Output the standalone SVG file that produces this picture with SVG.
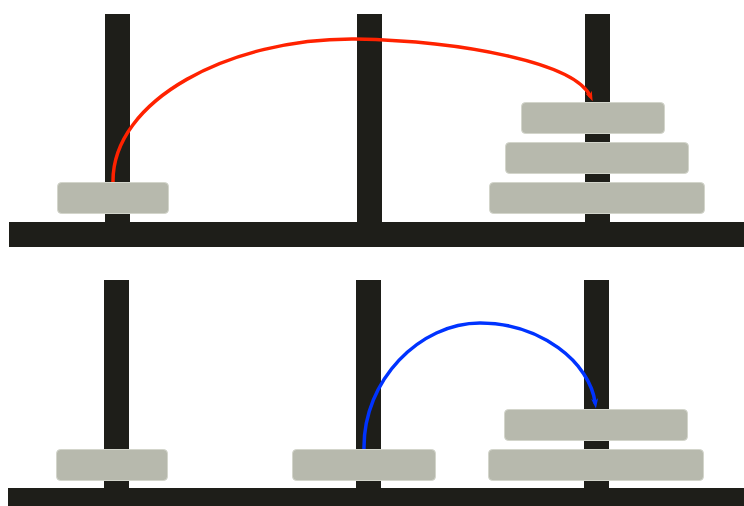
<svg xmlns="http://www.w3.org/2000/svg" width="744" height="506" viewBox="0 0 744 506">
<style>
.pole{fill:#1e1e19}
.disk{fill:#b7b9ad;stroke:#d3d5cb;stroke-width:1}
.arc{fill:none;stroke-width:3.5}
</style>
<defs>
<marker id="arR" markerWidth="10" markerHeight="7" refX="5" refY="3.5" orient="auto" markerUnits="userSpaceOnUse" viewBox="0 0 10 7"><path d="M0,0 L10,3.5 L0,7 L3,3.5 Z" fill="#ff2200"/></marker>
<marker id="arB" markerWidth="10" markerHeight="7" refX="5" refY="3.5" orient="auto" markerUnits="userSpaceOnUse" viewBox="0 0 10 7"><path d="M0,0 L10,3.5 L0,7 L3,3.5 Z" fill="#0033ff"/></marker>
</defs>
<rect width="744" height="506" fill="#ffffff"/>
<g id="top">
<g id="top-poles">
<rect class="pole" x="105" y="14" width="25" height="210"/>
<rect class="pole" x="357" y="14" width="25" height="210"/>
<rect class="pole" x="585" y="14" width="25" height="210"/>
<rect class="pole" x="9" y="222" width="735" height="25"/>
</g>
<g id="top-disk-a"><rect class="disk" x="57.5" y="182.5" width="111" height="31" rx="4"/></g>
<g id="top-disk-b"><rect class="disk" x="521.5" y="102.5" width="143" height="31" rx="4"/></g>
<g id="top-disk-c"><rect class="disk" x="505.5" y="142.5" width="183" height="31" rx="4"/></g>
<g id="top-disk-d"><rect class="disk" x="489.5" y="182.5" width="215" height="31" rx="4"/></g>
</g>
<g id="bottom">
<g id="bottom-poles">
<rect class="pole" x="104" y="280" width="25" height="210"/>
<rect class="pole" x="356" y="280" width="25" height="210"/>
<rect class="pole" x="584" y="280" width="25" height="210"/>
<rect class="pole" x="8" y="488" width="736" height="18"/>
</g>
<g id="bottom-disk-a"><rect class="disk" x="56.5" y="449.5" width="111" height="31" rx="4"/></g>
<g id="bottom-disk-b"><rect class="disk" x="292.5" y="449.5" width="143" height="31" rx="4"/></g>
<g id="bottom-disk-c"><rect class="disk" x="504.5" y="409.5" width="183" height="31" rx="4"/></g>
<g id="bottom-disk-d"><rect class="disk" x="488.5" y="449.5" width="215" height="31" rx="4"/></g>
</g>
<g id="connectors">
<path class="arc" stroke="#ff2200" d="M113,182 C112,100 230,38 355,39 C460,41 575,62 590.6,96.7" marker-end="url(#arR)"/>
<path class="arc" stroke="#0033ff" d="M364,449 C363,380 420,323 480,323 C540,323 590,362 595.3,403.5" marker-end="url(#arB)"/>
</g>
</svg>
